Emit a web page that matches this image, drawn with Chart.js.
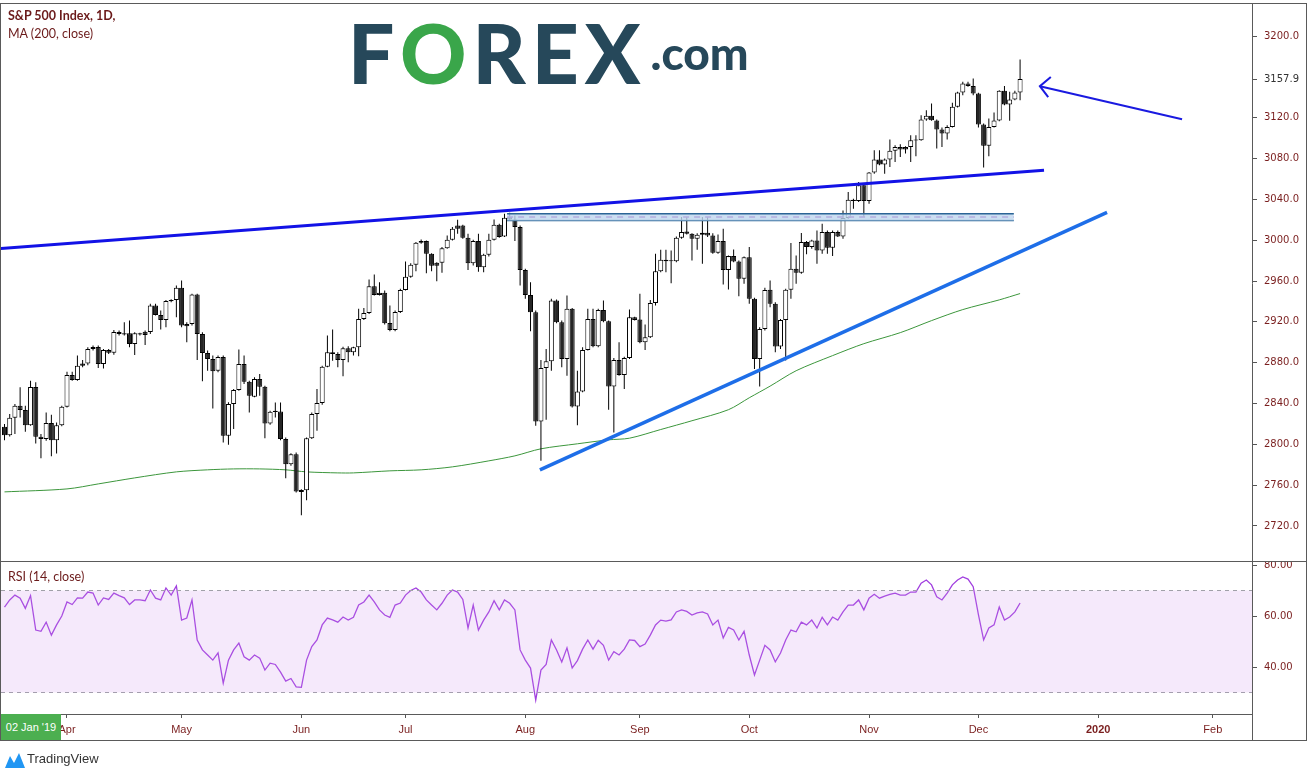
<!DOCTYPE html>
<html><head><meta charset="utf-8">
<script src="https://cdn.jsdelivr.net/npm/chart.js@4.4.0/dist/chart.umd.min.js"></script>
<style>
html,body{margin:0;padding:0;background:#fff;}
#wrap{position:relative;width:1311px;height:778px;overflow:hidden;background:#fff;}
canvas{position:absolute;left:0;}
.ov{position:absolute;pointer-events:none;white-space:nowrap;}
.ln{position:absolute;background:#5a5a5a;}
</style></head><body>
<div id="wrap">
<canvas id="main" width="1311" height="562" style="top:0"></canvas>
<canvas id="rsi" width="1311" height="180" style="top:561px"></canvas>
<div class="ln" style="left:0;top:3px;width:1307px;height:1px"></div>
<div class="ln" style="left:0;top:3px;width:1px;height:738px"></div>
<div class="ln" style="left:1306px;top:3px;width:1px;height:738px"></div>
<div class="ln" style="left:0;top:561px;width:1307px;height:1px"></div>
<div class="ln" style="left:0;top:740px;width:1307px;height:1px"></div>
<div class="ln" style="left:1252px;top:714px;width:1px;height:27px"></div>
<div class="ov" style="left:8px;top:8px;font:bold 12.5px Lato,sans-serif;color:#6b1a1a">S&amp;P 500 Index, 1D,</div>
<div class="ov" style="left:8px;top:26px;font:12.5px Lato,sans-serif;color:#6b1a1a">MA (200, close)</div>
<div class="ov" style="left:8px;top:569px;font:12.5px Lato,sans-serif;color:#6b1a1a">RSI (14, close)</div>
<div class="ov" id="logo" style="left:348px;top:3px;font:900 82px Lato,sans-serif;color:#26485a;letter-spacing:6px">F<span style="color:#3aa64a">O</span>REX<span style="font-size:46px;letter-spacing:0;position:relative;top:-14px;margin-left:4px">.com</span></div>
<div class="ov" style="left:1px;top:714px;width:60px;height:26px;background:#4caf50;color:#fff;font:11px 'Liberation Sans Narrow','Liberation Sans',sans-serif;line-height:26px;text-align:center">02 Jan '19</div>
<div class="ov" style="left:4px;top:750px;">
<svg width="22" height="20" viewBox="0 0 22 20"><path d="M1 18 L6 6 L10 13 L15 3 L21 18 Z" fill="#2196f3"/></svg>
</div>
<div class="ov" style="left:27px;top:751px;font:13px 'Liberation Sans Narrow','Liberation Sans',sans-serif;color:#333">TradingView</div>
</div>
<script>
const opens=[2817.2,2809.0,2826.0,2837.8,2833.5,2818.8,2856.1,2807.4,2805.1,2820.8,2804.1,2818.8,2836.8,2867.9,2863.0,2879.3,2879.3,2895.4,2895.4,2878.7,2892.4,2889.8,2910.1,2908.8,2908.8,2898.3,2908.8,2910.4,2910.1,2935.9,2926.8,2921.9,2941.5,2941.5,2953.3,2917.9,2917.9,2946.7,2908.1,2889.5,2883.6,2872.1,2885.6,2808.3,2839.4,2853.2,2878.7,2861.3,2846.6,2863.9,2856.4,2820.4,2832.9,2832.2,2805.1,2780.5,2790.3,2755.3,2755.0,2806.0,2829.6,2840.4,2876.1,2890.1,2888.5,2882.6,2894.0,2890.1,2895.0,2922.8,2928.7,2954.9,2948.4,2948.4,2918.9,2912.0,2929.7,2951.3,2964.1,2975.9,2999.1,2999.1,2986.6,2977.8,2977.8,2992.2,3000.4,3014.5,3014.5,3002.4,2977.5,2999.1,2973.6,2985.7,3000.4,3015.1,3003.7,3022.6,3020.3,3012.8,2970.9,2946.4,2929.4,2822.4,2874.7,2881.3,2940.8,2919.6,2883.6,2932.7,2837.1,2851.8,2892.4,2922.8,2896.0,2931.7,2920.6,2856.7,2882.6,2867.9,2884.6,2924.5,2922.2,2899.9,2904.8,2938.5,2969.6,2980.8,2979.4,2979.4,3002.4,3008.6,3006.3,3001.4,3005.3,3007.3,3004.6,2987.6,2999.1,2970.9,2984.4,2979.1,2962.1,2983.4,2942.5,2883.6,2913.0,2951.4,2937.6,2895.8,2921.9,2951.4,2972.0,2968.1,2998.2,2993.3,2999.8,2990.0,3008.0,2992.6,3008.0,3003.7,3021.7,3038.4,3038.4,3053.8,3038.4,3066.2,3079.0,3074.1,3079.0,3087.5,3091.4,3091.4,3091.4,3098.0,3098.0,3118.2,3121.8,3117.3,3108.4,3104.5,3111.0,3130.7,3144.7,3153.6,3151.0,3143.8,3113.3,3092.4,3111.0,3117.3,3146.4,3133.0,3137.9,3144.7];
const highs=[2819.8,2829.6,2839.4,2855.8,2837.8,2862.3,2860.7,2810.0,2831.2,2828.9,2821.4,2837.8,2871.2,2871.2,2886.9,2882.6,2895.0,2896.7,2896.7,2893.4,2893.4,2912.1,2911.4,2919.6,2921.2,2909.8,2909.4,2911.4,2937.6,2937.6,2931.0,2941.5,2942.2,2955.6,2960.5,2919.6,2947.4,2947.4,2909.8,2891.8,2886.9,2886.9,2886.9,2841.1,2854.1,2892.8,2886.9,2862.3,2865.6,2868.9,2857.4,2832.9,2841.0,2841.0,2806.7,2791.3,2792.0,2756.0,2806.7,2831.2,2854.1,2877.0,2906.5,2912.4,2890.1,2895.7,2896.0,2895.7,2932.7,2933.6,2961.5,2966.4,2958.8,2950.7,2935.9,2931.0,2952.3,2979.1,2977.5,2998.1,3000.7,2999.7,2987.3,2978.5,2993.2,3004.6,3012.8,3020.0,3015.1,3006.3,3000.4,3006.3,2986.6,3006.3,3020.3,3016.1,3025.9,3026.9,3024.3,3014.5,2971.9,2958.8,2931.0,2882.6,2893.4,2942.5,2941.8,2921.2,2945.7,2933.6,2872.1,2895.0,2932.7,2932.7,2932.7,2940.8,2921.2,2884.6,2899.9,2885.9,2932.0,2925.1,2947.4,2917.3,2941.5,2986.6,2990.6,2990.6,2989.9,3003.7,3022.6,3022.6,3006.9,3006.9,3022.6,3022.6,3006.9,3005.6,3011.2,2985.0,2990.9,2980.1,2984.0,2993.2,2943.5,2914.7,2953.3,2960.5,2939.3,2922.9,2952.4,2997.2,2985.1,3007.0,2999.1,3000.5,3009.6,3016.2,3009.6,3009.6,3009.6,3029.2,3047.2,3040.7,3057.1,3056.1,3066.9,3088.1,3088.1,3080.0,3098.6,3093.0,3094.0,3092.1,3102.9,3102.9,3122.5,3127.4,3133.9,3118.2,3110.4,3112.7,3134.6,3145.4,3155.2,3155.2,3158.5,3144.4,3114.3,3119.2,3125.1,3147.0,3151.0,3145.4,3146.4,3177.1];
const lows=[2804.1,2807.7,2810.0,2826.3,2812.3,2818.2,2800.8,2786.4,2803.4,2788.4,2791.0,2817.8,2836.1,2862.3,2862.3,2875.4,2877.4,2891.8,2874.8,2874.4,2888.5,2887.8,2906.5,2906.5,2895.0,2887.5,2906.5,2897.3,2908.1,2926.1,2912.4,2914.7,2939.2,2924.5,2914.7,2900.0,2916.3,2882.6,2861.7,2872.1,2835.2,2870.5,2801.8,2799.5,2814.9,2852.5,2859.1,2831.2,2846.0,2847.6,2806.0,2819.1,2826.3,2804.1,2766.8,2778.9,2752.7,2730.5,2745.2,2805.1,2813.2,2838.8,2875.4,2881.9,2875.4,2866.6,2880.3,2886.9,2886.2,2921.9,2927.8,2945.7,2945.7,2917.3,2910.7,2910.7,2928.7,2950.7,2963.1,2969.6,2996.5,2967.7,2969.6,2959.8,2968.0,2991.6,2999.7,3006.3,3001.4,2970.9,2975.2,2969.0,2968.7,2984.0,2999.7,3002.4,3003.0,3019.4,2999.1,2955.6,2942.5,2910.7,2818.1,2783.8,2824.0,2872.1,2918.6,2875.4,2867.2,2836.1,2818.8,2850.9,2891.8,2895.0,2895.0,2919.6,2833.8,2811.6,2867.2,2854.1,2883.6,2921.2,2899.0,2892.4,2904.2,2935.9,2968.7,2968.7,2957.9,2978.5,3001.4,3005.6,2980.1,2990.6,2976.8,3003.0,2986.6,2986.6,2956.5,2951.6,2978.5,2945.1,2957.2,2937.6,2873.8,2856.7,2911.4,2934.4,2890.2,2893.5,2882.0,2942.5,2957.3,2967.1,2986.1,2991.6,2976.9,2986.7,2986.7,2984.4,3003.1,3001.4,3021.1,3030.9,3037.4,3022.7,3035.8,3065.2,3073.4,3065.2,3071.8,3076.7,3081.6,3084.9,3076.7,3082.3,3097.3,3116.9,3116.9,3089.8,3091.4,3098.6,3110.4,3130.0,3142.1,3150.3,3142.1,3110.4,3071.1,3082.3,3110.4,3116.6,3132.3,3116.9,3137.2,3137.2];
const closes=[2809.0,2826.0,2837.8,2833.5,2818.8,2856.1,2807.4,2805.1,2820.8,2804.1,2818.8,2836.8,2867.9,2863.0,2877.0,2877.0,2893.4,2893.4,2878.7,2892.4,2889.8,2910.1,2908.1,2907.5,2898.3,2908.8,2907.5,2907.2,2935.9,2926.8,2921.9,2940.5,2940.2,2953.3,2916.3,2915.7,2946.7,2908.1,2889.5,2883.6,2871.5,2885.6,2808.3,2839.4,2853.2,2878.7,2861.3,2847.6,2864.0,2856.4,2820.4,2831.9,2831.6,2805.1,2780.5,2790.3,2753.7,2753.4,2806.0,2829.6,2840.4,2876.1,2890.1,2888.5,2882.6,2894.0,2890.1,2895.0,2922.8,2928.7,2954.9,2946.4,2946.4,2918.6,2912.0,2929.7,2951.3,2964.1,2975.9,2997.4,2997.4,2986.6,2974.9,2974.9,2992.2,3000.4,3011.2,3011.2,3002.4,2977.5,2999.1,2973.6,2985.7,3000.4,3015.1,3003.0,3022.0,3020.3,3012.8,2970.9,2946.4,2929.4,2822.4,2874.7,2881.3,2940.8,2919.6,2883.6,2932.7,2837.1,2851.8,2892.4,2922.8,2896.0,2931.7,2920.6,2856.7,2882.6,2867.9,2884.6,2924.5,2921.9,2899.9,2904.8,2938.5,2969.6,2980.8,2979.4,2980.1,3002.4,3007.9,3006.3,3001.4,3005.3,3007.3,3004.6,2987.6,2999.1,2970.9,2984.4,2979.1,2962.1,2983.4,2942.5,2883.6,2913.0,2951.3,2937.6,2895.8,2921.9,2951.4,2972.0,2968.1,2998.2,2993.3,2999.8,2990.0,3008.0,2992.6,3008.0,3003.7,3021.7,3039.7,3039.7,3053.8,3038.4,3066.2,3079.0,3074.1,3079.0,3087.5,3091.4,3088.8,3088.8,3098.0,3097.6,3118.2,3121.8,3117.6,3108.4,3104.5,3111.0,3130.7,3144.7,3153.6,3151.0,3143.8,3113.3,3092.4,3111.0,3117.3,3146.4,3133.0,3137.9,3144.7,3157.9];
// 200-day MA at these bars
const maIdx=[0,12,18,25,33,39,44,49,54,58,64,67,74,80,86,93,98,103,110,116,120,126,132,139,143,147,152,159,165,172,178,184,191,195];
const maVals=[2753.4,2756.3,2761.2,2767.1,2773.0,2775.0,2775.9,2775.9,2775.0,2773.0,2772.0,2772.0,2774.0,2775.0,2777.9,2783.8,2788.7,2795.6,2800.5,2804.4,2806.0,2814.5,2823.1,2833.9,2845.6,2857.0,2872.1,2886.9,2898.6,2909.4,2921.2,2932.0,2941.5,2947.7];
// RSI(14), one value per bar
const rsiVals=[63.5,66.3,68.2,67.0,63.0,68.0,54.5,54.0,57.6,52.5,56.5,60.0,65.5,64.5,67.1,67.0,69.4,69.0,64.3,67.1,66.5,69.0,68.0,67.1,64.5,66.3,66.3,66.0,70.2,67.0,66.3,71.0,68.2,71.8,58.4,59.2,66.3,50.6,46.7,44.7,42.7,45.5,33.7,42.7,46.7,49.4,44.0,42.7,44.7,43.5,38.8,41.5,41.0,38.0,34.5,35.5,32.2,32.0,42.7,48.0,50.6,56.5,59.2,58.5,57.6,59.6,58.4,59.5,64.3,65.5,68.2,65.5,62.4,60.4,59.5,64.3,65.1,68.2,70.0,71.0,69.4,66.3,64.3,62.4,65.0,68.2,70.2,69.4,66.5,55.3,64.3,54.5,58.4,61.6,66.0,62.4,66.3,65.0,62.4,46.7,42.7,39.6,27.0,38.8,41.0,50.6,46.7,42.0,47.5,39.6,42.5,47.0,50.6,47.0,50.5,48.5,42.7,46.0,44.7,47.0,50.6,50.4,48.0,49.0,52.5,56.5,58.4,58.0,58.5,61.6,62.4,61.8,60.4,61.2,61.6,60.8,56.5,58.4,51.4,55.5,54.5,50.6,54.0,44.7,36.9,42.7,48.5,46.7,42.0,45.5,50.6,54.5,53.8,57.6,56.5,58.4,55.3,59.5,56.5,59.6,58.4,61.6,64.3,64.3,66.3,62.4,67.0,68.5,67.0,67.8,68.5,69.0,68.2,68.2,69.4,69.4,72.9,74.1,72.2,67.5,66.3,69.0,72.2,74.1,75.3,74.5,71.5,60.5,50.6,55.3,56.5,63.5,58.4,59.6,61.6,65.1];
const priceTicks=[2720,2760,2800,2840,2880,2920,2960,3000,3040,3080,3120,3200];
const rsiTicks=[40,60,80];
const rsiBand=[30,70];
const monthLabels=['Apr','May','Jun','Jul','Aug','Sep','Oct','Nov','Dec','2020','Feb'];
const monthIdx=[12,34,57,77,100,122,143,166,187,210,232];
// drawn objects, in (bar index, price)
const resistLine=[[-0.7,2991.9],[199.6,3068.5]];
const supportLine=[[102.8,2775.0],[211.7,3027.2]];
const zoneX=[96.5,193.8];
const zoneY=[3019.4,3022.7,3026.0];
const arrowShaft=[[226.1,3118.5],[198.8,3150.9]];
const arrowHead=[[200.9,3159.8],[198.8,3150.9],[200.4,3140.1]];

const XMIN=-0.672, XMAX=239.53;
const MAROON='#7a1e1e';
const lastClose=closes[closes.length-1];
const idx=opens.map((_,i)=>i);
const pts=a=>a.map(p=>({x:p[0],y:p[1]}));
Chart.defaults.animation=false;
Chart.defaults.responsive=false;
Chart.defaults.plugins.legend.display=false;
Chart.defaults.plugins.tooltip.enabled=false;
Chart.defaults.events=[];

new Chart(document.getElementById('main'),{
  type:'bar',
  data:{datasets:[
    {type:'line',data:maIdx.map((v,k)=>({x:v,y:maVals[k]})),borderColor:'#3c963c',borderWidth:1,pointRadius:0,tension:0.3,order:9},
    {type:'bar',data:idx.map(i=>({x:i,y:[lows[i],highs[i]]})),backgroundColor:'#000',barThickness:1,grouped:false,inflateAmount:0,order:8},
    {type:'bar',data:idx.map(i=>({x:i,y:[Math.min(opens[i],closes[i]),Math.max(opens[i],closes[i])]})),
      backgroundColor:idx.map(i=>closes[i]>=opens[i]?'#ffffff':'#262626'),borderColor:'#000',borderWidth:1,borderSkipped:false,
      barThickness:5,grouped:false,minBarLength:1,inflateAmount:0,order:7},
    {type:'line',data:[{x:zoneX[0],y:zoneY[2]},{x:zoneX[1],y:zoneY[2]}],borderColor:'#2b6496',borderWidth:1.5,pointRadius:0,fill:'+1',backgroundColor:'rgba(190,214,238,0.8)',order:6},
    {type:'line',data:[{x:zoneX[0],y:zoneY[0]},{x:zoneX[1],y:zoneY[0]}],borderColor:'#2b6496',borderWidth:1.5,pointRadius:0,order:6},
    {type:'line',data:[{x:zoneX[0],y:zoneY[1]},{x:zoneX[1],y:zoneY[1]}],borderColor:'#b3aee0',borderWidth:1.5,borderDash:[6,5],pointRadius:0,order:5},
    {type:'line',data:pts(resistLine),borderColor:'#1212e6',borderWidth:3,pointRadius:0,order:1},
    {type:'line',data:pts(supportLine),borderColor:'#1e6ee8',borderWidth:3.5,pointRadius:0,order:1},
    {type:'line',data:pts(arrowShaft),borderColor:'#1a1ae0',borderWidth:2,pointRadius:0,order:1},
    {type:'line',data:pts(arrowHead),borderColor:'#1a1ae0',borderWidth:2,pointRadius:0,order:1}
  ]},
  options:{
    layout:{padding:{top:4,left:1,right:0,bottom:0}},
    scales:{
      x:{type:'linear',min:XMIN,max:XMAX,display:false,offset:false},
      y:{type:'linear',position:'right',min:2684.7,max:3231.4,
        afterBuildTicks:s=>{s.ticks=[...priceTicks,lastClose].sort((a,b)=>a-b).map(v=>({value:v}));},
        afterFit:s=>{s.width=59;s.paddingTop=0;s.paddingBottom=0;},
        ticks:{autoSkip:false,padding:7,font:{family:'DejaVu Sans',size:10},
          color:c=>(c.tick&&Math.abs(c.tick.value-lastClose)<0.01)?'#333':MAROON,
          callback:v=>Number(v).toFixed(1)},
        grid:{drawOnChartArea:false,drawTicks:true,tickLength:5,tickColor:'#555'},
        border:{display:true,color:'#5a5a5a',width:1}}
    }
  }
});

new Chart(document.getElementById('rsi'),{
  type:'line',
  data:{datasets:[
    {data:[{x:XMIN,y:rsiBand[1]},{x:XMAX,y:rsiBand[1]}],borderColor:'#a0a0a8',borderWidth:1,borderDash:[4,4],pointRadius:0,fill:'+1',backgroundColor:'rgba(206,147,236,0.2)'},
    {data:[{x:XMIN,y:rsiBand[0]},{x:XMAX,y:rsiBand[0]}],borderColor:'#a0a0a8',borderWidth:1,borderDash:[4,4],pointRadius:0},
    {data:rsiVals.map((v,i)=>({x:i,y:v})),borderColor:'#a13fdf',borderWidth:1.3,pointRadius:0}
  ]},
  options:{
    layout:{padding:{top:1,left:1,right:0,bottom:0}},
    scales:{
      x:{type:'linear',min:XMIN,max:XMAX,position:'bottom',
        afterBuildTicks:s=>{s.ticks=monthIdx.map(v=>({value:v}));},
        afterFit:s=>{s.height=27;s.paddingLeft=0;s.paddingRight=0;},
        ticks:{autoSkip:false,maxRotation:0,padding:5,color:MAROON,
          font:c=>({family:"'Liberation Sans Narrow','Liberation Sans',sans-serif",size:11,weight:(c.index===monthLabels.indexOf('2020'))?'bold':'normal'}),
          callback:(v,i)=>monthLabels[i]},
        grid:{drawOnChartArea:false,drawTicks:true,tickLength:4,tickColor:'#555'},
        border:{display:true,color:'#5a5a5a',width:1}},
      y:{type:'linear',position:'right',min:21.57,max:81.18,
        afterBuildTicks:s=>{s.ticks=rsiTicks.map(v=>({value:v}));},
        afterFit:s=>{s.width=59;s.paddingTop=0;s.paddingBottom=0;},
        ticks:{autoSkip:false,padding:7,font:{family:'DejaVu Sans',size:10},color:MAROON,callback:v=>Number(v).toFixed(2)},
        grid:{drawOnChartArea:false,drawTicks:true,tickLength:5,tickColor:'#555'},
        border:{display:true,color:'#5a5a5a',width:1}}
    }
  }
});
</script>
</body></html>
